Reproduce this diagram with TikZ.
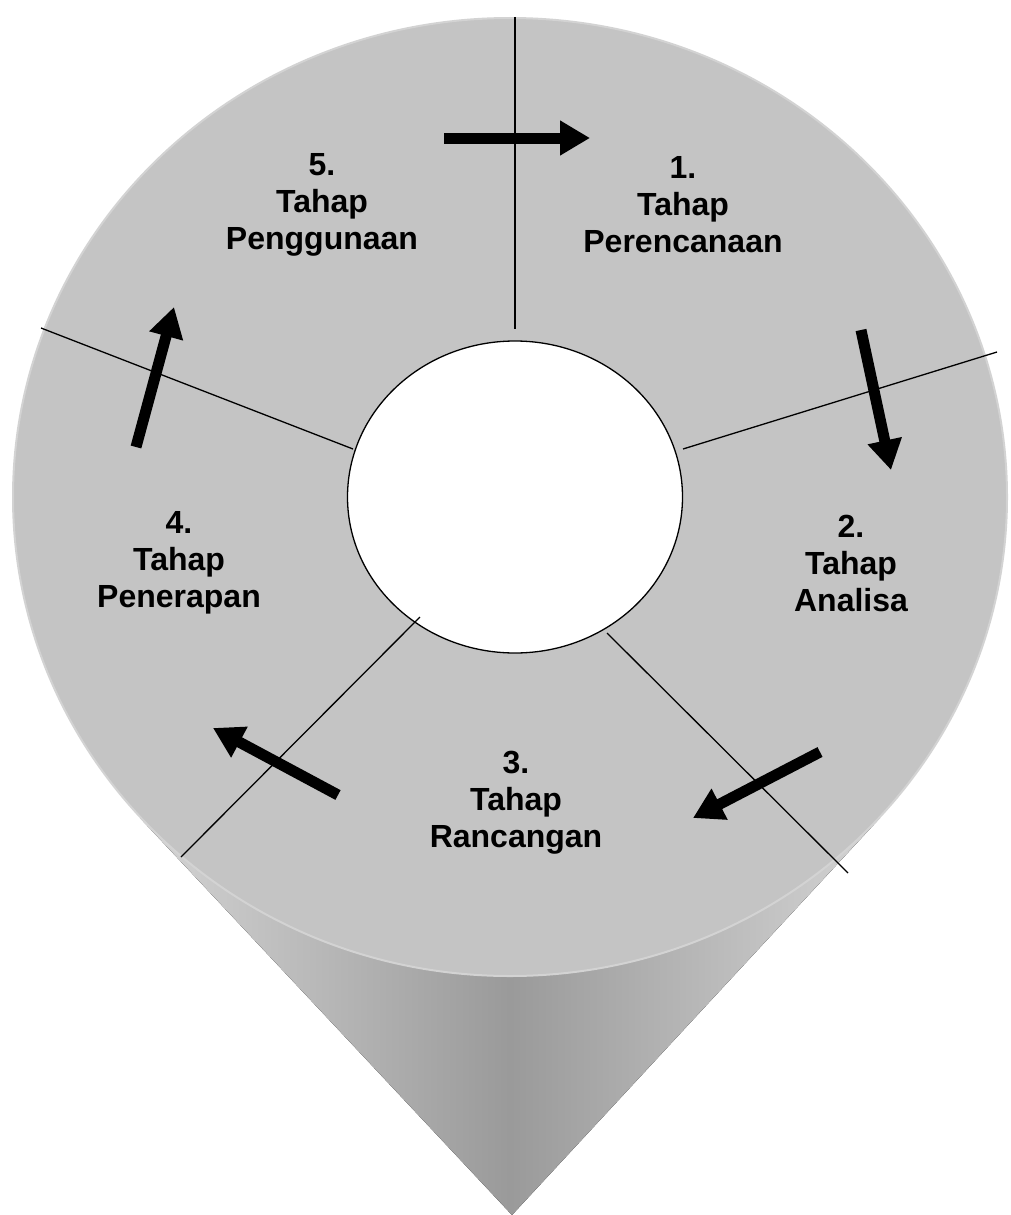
\documentclass[tikz,border=0pt]{standalone}
\usepackage{fontspec}
\setmainfont{Liberation Sans}
\usetikzlibrary{arrows.meta,shapes.geometric}
\definecolor{face}{HTML}{C4C4C4}
\definecolor{rim}{HTML}{D3D3D3}
\definecolor{conelight}{HTML}{D4D4D4}
\definecolor{conedark}{HTML}{9A9A9A}
\begin{document}
\begin{tikzpicture}[x=1pt,y=-1pt,
  lbl/.style={font=\bfseries\fontsize{32}{37}\selectfont, align=center, text=black, inner sep=0pt},
  divider/.style={draw=black, line width=1.3pt},
  cyclearrow/.style={line width=11pt, -{Triangle[length=30pt,width=33pt]}}]
\useasboundingbox (0,0) rectangle (1011,1215);
% cone
\fill[left color=conelight, right color=conelight, middle color=conedark]
  (140,818) -- (512,1215) -- (880,818) -- (510,497) -- cycle;
% outer disc
\fill[face, draw=rim, line width=2pt] (510,497) ellipse [x radius=497, y radius=479];
% inner hole
\node[draw=black, fill=white, line width=1.3pt, ellipse, minimum width=335pt, minimum height=312pt, inner sep=0pt] (hole) at (515,497) {};
% dividers
\coordinate (d1a) at (515,17);  \coordinate (d1b) at (515,329);
\coordinate (d2a) at (683,449); \coordinate (d2b) at (997,352);
\coordinate (d3a) at (353,449); \coordinate (d3b) at (41,328);
\coordinate (d4a) at (420,617); \coordinate (d4b) at (181,857);
\coordinate (d5a) at (607,633); \coordinate (d5b) at (848,873);
\draw[divider] (d1a) -- (d1b);
\draw[divider] (d2a) -- (d2b);
\draw[divider] (d3a) -- (d3b);
\draw[divider] (d4a) -- (d4b);
\draw[divider] (d5a) -- (d5b);
% arrows
\coordinate (a1s) at (444,138); \coordinate (a1e) at (590,138);
\coordinate (a2s) at (861,330); \coordinate (a2e) at (891,470);
\coordinate (a3s) at (820,752); \coordinate (a3e) at (693,818);
\coordinate (a4s) at (338,795); \coordinate (a4e) at (213,728);
\coordinate (a5s) at (136,447); \coordinate (a5e) at (174,307);
\draw[cyclearrow] (a1s) -- (a1e);
\draw[cyclearrow] (a2s) -- (a2e);
\draw[cyclearrow] (a3s) -- (a3e);
\draw[cyclearrow] (a4s) -- (a4e);
\draw[cyclearrow] (a5s) -- (a5e);
% labels
\node[lbl] (s1) at (683,205) {1.\\Tahap\\Perencanaan};
\node[lbl] (s2) at (851,563) {2.\\Tahap\\Analisa};
\node[lbl] (s3) at (516,803) {3.\\Tahap\\Rancangan};
\node[lbl] (s4) at (179,563) {4.\\Tahap\\Penerapan};
\node[lbl] (s5) at (322,205) {5.\\Tahap\\Penggunaan};
\end{tikzpicture}
\end{document}
